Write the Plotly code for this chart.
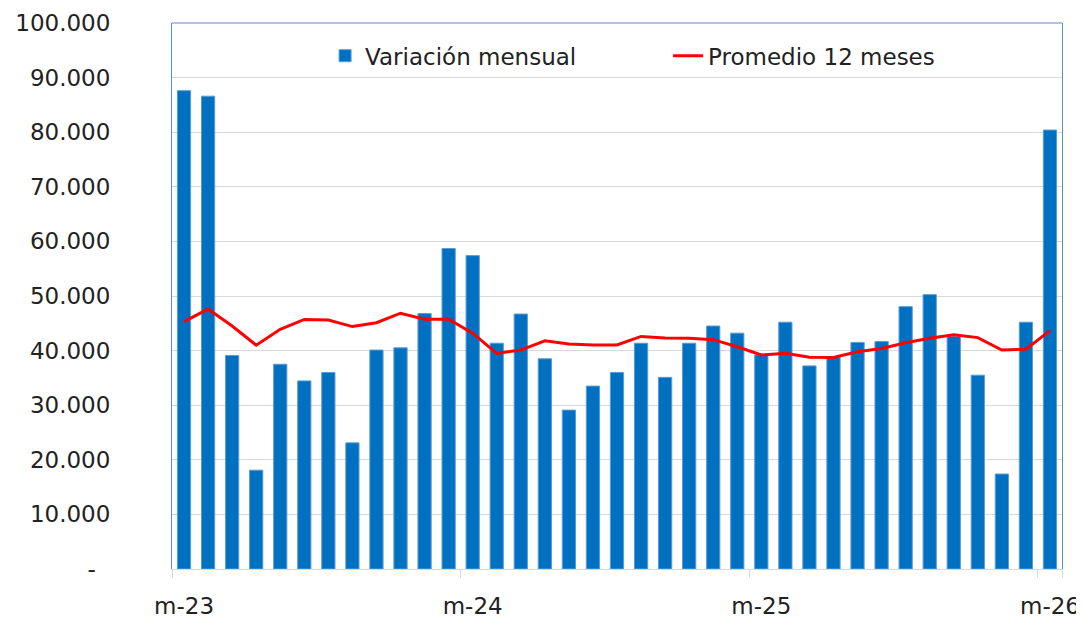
import plotly.graph_objects as go

months = [
    "mar-23", "abr-23", "may-23", "jun-23", "jul-23", "ago-23", "sep-23", "oct-23", "nov-23", "dic-23",
    "ene-24", "feb-24", "mar-24", "abr-24", "may-24", "jun-24", "jul-24", "ago-24", "sep-24", "oct-24",
    "nov-24", "dic-24", "ene-25", "feb-25", "mar-25", "abr-25", "may-25", "jun-25", "jul-25", "ago-25",
    "sep-25", "oct-25", "nov-25", "dic-25", "ene-26", "feb-26", "mar-26",
]

variacion_mensual = [
    87600, 86600, 39100, 18100, 37500, 34450, 36000, 23100, 40100, 40500,
    46800, 58700, 57400, 41350, 46700, 38500, 29100, 33500, 36000, 41350,
    35100, 41350, 44500, 43200, 39200, 45200, 37200, 38800, 41500, 41650,
    48050, 50250, 42600, 35500, 17400, 45200, 80400,
]

promedio_12m = [
    45300, 47600, 44500, 41000, 43900, 45700, 45600, 44400, 45100, 46850,
    45750, 45750, 43200, 39500, 40100, 41800, 41200, 41040, 41040, 42600,
    42300, 42250, 42000, 40700, 39200, 39500, 38800, 38750, 39800, 40400,
    41450, 42270, 42900, 42380, 40100, 40250, 43660,
]

x_tickvals = ["mar-23", "mar-24", "mar-25", "mar-26"]
x_ticktext = ["m-23", "m-24", "m-25", "m-26"]

y_tickvals = [0, 10000, 20000, 30000, 40000, 50000, 60000, 70000, 80000, 90000, 100000]
y_ticktext = ["-\u00a0\u00a0", "10.000", "20.000", "30.000", "40.000", "50.000",
              "60.000", "70.000", "80.000", "90.000", "100.000"]

FONT = "DejaVu Sans"
TXT = "#222222"

fig = go.Figure()
fig.add_trace(go.Bar(
    x=months, y=variacion_mensual, name="Variación mensual",
    marker=dict(color="#0070C0", line=dict(color="#5B9BD5", width=1)),
))
fig.add_trace(go.Scatter(
    x=months, y=promedio_12m, name="Promedio 12 meses", mode="lines",
    line=dict(color="#FF0000", width=3),
))

fig.update_layout(
    width=1076, height=611,
    margin=dict(l=164, r=22, t=15, b=50),
    paper_bgcolor="white", plot_bgcolor="white",
    font=dict(family=FONT, size=23, color=TXT),
    bargap=0.45,
    showlegend=True,
    legend=dict(
        orientation="h", x=0.172, xanchor="left", y=0.94, yanchor="middle",
        font=dict(family=FONT, size=23, color=TXT),
        bgcolor="rgba(0,0,0,0)", entrywidth=298, traceorder="normal",
    ),
    xaxis=dict(
        type="category", range=[-0.5, 36.5], automargin=False,
        tickvals=x_tickvals, ticktext=x_ticktext, tickson="boundaries",
        tickangle=0,
        ticks="outside", ticklen=8, tickcolor="#D9D9D9", tickwidth=1,
        showline=True, linecolor="#D9D9D9", linewidth=1,
        showgrid=False, ticklabelstandoff=16,
        tickfont=dict(family=FONT, size=23, color=TXT),
    ),
    yaxis=dict(
        range=[0, 100000], tickvals=y_tickvals, ticktext=y_ticktext, automargin=False,
        showgrid=True, gridcolor="#D9D9D9", gridwidth=1,
        showline=True, linecolor="#5B8BD0", linewidth=1, mirror=True,
        zeroline=False, ticks="", ticklabelstandoff=56,
        tickfont=dict(family=FONT, size=23, color=TXT),
    ),
    shapes=[dict(type="line", xref="paper", yref="paper", x0=0, x1=1, y0=1, y1=1,
                 line=dict(color="#5B8BD0", width=1))],
)

fig.write_html("out.html")
